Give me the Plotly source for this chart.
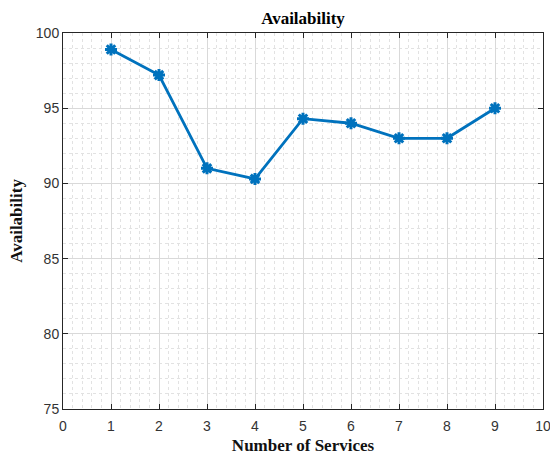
import plotly.graph_objects as go

# Availability measured for each number of services
services = [1, 2, 3, 4, 5, 6, 7, 8, 9]
availability = [98.9, 97.2, 91.0, 90.3, 94.3, 94.0, 93.0, 93.0, 95.0]

x_ticks = [0, 1, 2, 3, 4, 5, 6, 7, 8, 9, 10]
y_ticks = [75, 80, 85, 90, 95, 100]

line_color = "#0072BD"
axis_color = "#262626"
serif = "Liberation Serif, Times New Roman, serif"
sans = "Liberation Sans, Arial, sans-serif"

fig = go.Figure(
    go.Scatter(
        x=services,
        y=availability,
        mode="lines+markers",
        line=dict(color=line_color, width=2.8),
        marker=dict(symbol="asterisk-open", size=10,
                    color=line_color, line=dict(color=line_color, width=3)),
        showlegend=False,
    )
)

axis_common = dict(
    showline=True,
    linecolor=axis_color,
    linewidth=1,
    mirror="ticks",
    ticks="inside",
    ticklen=5,
    tickwidth=1,
    tickcolor=axis_color,
    showgrid=True,
    gridcolor="#d9d9d9",
    gridwidth=1,
    zeroline=False,
    automargin=False,
    ticklabeloverflow="allow",
    tickfont=dict(family=sans, size=14, color="#333333"),
)

fig.update_xaxes(
    range=[0, 10],
    tickvals=x_ticks,
    ticktext=[str(v) for v in x_ticks],
    ticklabelstandoff=4,
    minor=dict(dtick=0.2, showgrid=True, gridcolor="#e2e2e2",
               griddash="dot", gridwidth=1),
    title=dict(text="<b>Number of Services</b>",
               font=dict(family=serif, size=17, color="#111111"), standoff=6),
    **axis_common,
)
fig.update_yaxes(
    range=[75, 100],
    tickvals=y_ticks,
    ticktext=[str(v) for v in y_ticks],
    minor=dict(dtick=1, showgrid=True, gridcolor="#e2e2e2",
               griddash="dot", gridwidth=1),
    title=dict(text="<b>Availability</b>",
               font=dict(family=serif, size=17, color="#111111"), standoff=8),
    **axis_common,
)

fig.update_layout(
    width=550,
    height=455,
    margin=dict(l=63, r=7, t=33, b=46),
    paper_bgcolor="white",
    plot_bgcolor="white",
    title=dict(
        text="<b>Availability</b>",
        font=dict(family=serif, size=17, color="#000000"),
        x=(63 + 543) / 2 / 550,
        xanchor="center",
        y=1 - 18 / 455,
        yanchor="middle",
    ),
)

fig.write_html("out.html")
